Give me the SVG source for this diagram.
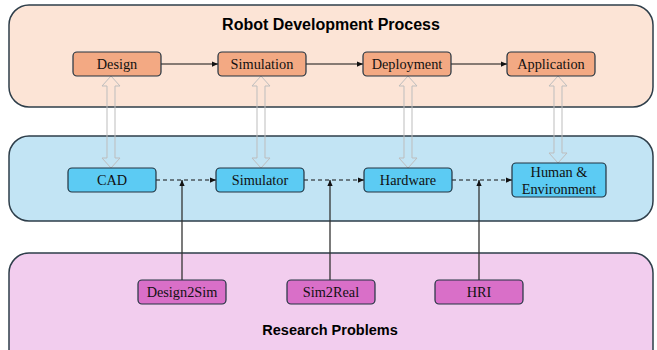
<svg xmlns="http://www.w3.org/2000/svg" width="657" height="350" viewBox="0 0 657 350">
<defs>
<marker id="ah" viewBox="0 0 8 8" refX="8" refY="4" markerWidth="6" markerHeight="6" markerUnits="userSpaceOnUse" orient="auto">
<path d="M0,0.5 L8,4 L0,7.5 Z" fill="#111"/>
</marker>
<style>
.panel{stroke:#2e3e4a;stroke-width:1.5}
.box{stroke:#223340;stroke-width:1.2}
.lbl{font-family:"Liberation Serif","Times New Roman",serif;font-size:14.3px;fill:#111;text-anchor:middle}
.ttl{font-family:"Liberation Sans",Arial,sans-serif;font-weight:bold;fill:#000;text-anchor:middle}
.solid{stroke:#111;stroke-width:1.2;fill:none}
.dash{stroke:#111;stroke-width:1.2;fill:none;stroke-dasharray:4,3}
.up{stroke:#333;stroke-width:1.3;fill:none}
.hollow{stroke:#bdbdbd;stroke-width:1;fill:none}
</style>
</defs>
<g id="panel-top"><rect class="panel" x="9" y="5" width="644" height="102" rx="20" fill="#fce4d6"/><text class="ttl" x="331" y="30" font-size="16">Robot Development Process</text></g>
<g id="panel-mid"><rect class="panel" x="9" y="136" width="644" height="85" rx="20" fill="#c2e4f4"/></g>
<g id="panel-bot"><rect class="panel" x="9" y="253" width="644" height="120" rx="20" fill="#f2cdee"/><text class="ttl" x="330" y="335" font-size="14.5">Research Problems</text></g>

<g id="connectors">
<line class="solid" x1="161" y1="64" x2="218" y2="64" marker-end="url(#ah)"/>
<line class="solid" x1="306" y1="64" x2="363" y2="64" marker-end="url(#ah)"/>
<line class="solid" x1="451" y1="64" x2="507" y2="64" marker-end="url(#ah)"/>
<line class="dash" x1="156" y1="180" x2="216" y2="180" marker-end="url(#ah)"/>
<line class="dash" x1="304" y1="180" x2="364" y2="180" marker-end="url(#ah)"/>
<line class="dash" x1="452" y1="180" x2="512" y2="180" marker-end="url(#ah)"/>
<line class="up" x1="182" y1="280" x2="182" y2="180" marker-end="url(#ah)"/>
<line class="up" x1="330" y1="280" x2="330" y2="180" marker-end="url(#ah)"/>
<line class="up" x1="479" y1="280" x2="479" y2="180" marker-end="url(#ah)"/>
<path class="hollow" d="M111,76 L120,86 L115,86 L115,158 L120,158 L111,168 L102,158 L107,158 L107,86 L102,86 Z"/>
<path class="hollow" d="M261,76 L270,86 L265,86 L265,158 L270,158 L261,168 L252,158 L257,158 L257,86 L252,86 Z"/>
<path class="hollow" d="M408,76 L417,86 L412,86 L412,158 L417,158 L408,168 L399,158 L404,158 L404,86 L399,86 Z"/>
<path class="hollow" d="M558,76 L567,86 L562,86 L562,153 L567,153 L558,163 L549,153 L554,153 L554,86 L549,86 Z"/>
</g>

<g id="design"><rect class="box" x="73" y="52" width="88" height="24" rx="4" fill="#f3a983"/><text class="lbl" x="117" y="69">Design</text></g>
<g id="simulation"><rect class="box" x="218" y="52" width="88" height="24" rx="4" fill="#f3a983"/><text class="lbl" x="262" y="69">Simulation</text></g>
<g id="deployment"><rect class="box" x="363" y="52" width="88" height="24" rx="4" fill="#f3a983"/><text class="lbl" x="407" y="69">Deployment</text></g>
<g id="application"><rect class="box" x="507" y="52" width="88" height="24" rx="4" fill="#f3a983"/><text class="lbl" x="551" y="69">Application</text></g>

<g id="cad"><rect class="box" x="68" y="168" width="88" height="24" rx="4" fill="#5ccbf3"/><text class="lbl" x="112" y="185">CAD</text></g>
<g id="simulator"><rect class="box" x="216" y="168" width="88" height="24" rx="4" fill="#5ccbf3"/><text class="lbl" x="260" y="185">Simulator</text></g>
<g id="hardware"><rect class="box" x="364" y="168" width="88" height="24" rx="4" fill="#5ccbf3"/><text class="lbl" x="408" y="185">Hardware</text></g>
<g id="human"><rect class="box" x="512" y="163" width="94" height="34" rx="4" fill="#5ccbf3"/><text class="lbl" x="559" y="177">Human &amp;</text><text class="lbl" x="559" y="194">Environment</text></g>

<g id="design2sim"><rect class="box" x="138" y="280" width="88" height="24" rx="4" fill="#d96fc8"/><text class="lbl" x="182" y="297">Design2Sim</text></g>
<g id="sim2real"><rect class="box" x="287" y="280" width="88" height="24" rx="4" fill="#d96fc8"/><text class="lbl" x="331" y="297">Sim2Real</text></g>
<g id="hri"><rect class="box" x="435" y="280" width="88" height="24" rx="4" fill="#d96fc8"/><text class="lbl" x="479" y="297">HRI</text></g>
</svg>
